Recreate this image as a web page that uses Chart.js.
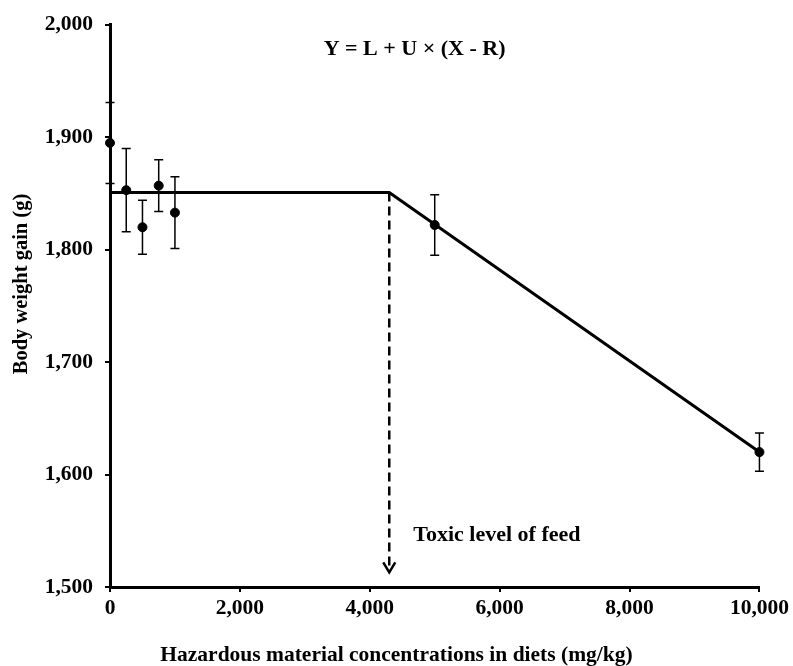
<!DOCTYPE html>
<html>
<head>
<meta charset="utf-8">
<script src="https://cdn.jsdelivr.net/npm/chart.js@4"></script>
<style>
  body { margin: 0; background: #fff; }
  canvas { display: block; }
</style>
</head>
<body>
<canvas id="myChart" width="793" height="666"></canvas>
<script>
// observed means and standard errors
const doses = [0, 250, 500, 750, 1000, 5000, 10000];
const gains = [1895, 1853, 1820, 1857, 1833, 1822, 1620];
const errs = [36, 37, 24, 23, 32, 27, 17];

// broken-line fit
const fitX = [0, 4300, 10000];
const fitY = [1851, 1851, 1620];

// toxic level marker
const toxicX = 4300;
const toxicFrom = 1851;
const toxicTo = 1513;

const yTicks = [1500, 1600, 1700, 1800, 1900, 2000];
const xTicks = [0, 2000, 4000, 6000, 8000, 10000];

const serif = '"Liberation Serif", "Times New Roman", serif';

// draws error bars, the arrow head, text notes and axis titles
const extras = {
  id: 'extras',
  afterDatasetsDraw(chart) {
    const c = chart.ctx, xs = chart.scales.x, ys = chart.scales.y;
    c.save();
    c.strokeStyle = '#000';
    c.lineWidth = 1.5;
    doses.forEach((d, i) => {
      const px = xs.getPixelForValue(d);
      const top = ys.getPixelForValue(gains[i] + errs[i]);
      const bot = ys.getPixelForValue(gains[i] - errs[i]);
      c.beginPath();
      c.moveTo(px, top); c.lineTo(px, bot);
      c.moveTo(px - 4.5, top); c.lineTo(px + 4.5, top);
      c.moveTo(px - 4.5, bot); c.lineTo(px + 4.5, bot);
      c.stroke();
    });
    // arrow head
    const ax = xs.getPixelForValue(toxicX), ay = ys.getPixelForValue(toxicTo);
    c.lineWidth = 2.5;
    c.beginPath();
    c.moveTo(ax - 6, ay - 10); c.lineTo(ax, ay); c.lineTo(ax + 6, ay - 10);
    c.stroke();
    // text notes
    c.fillStyle = '#000';
    c.font = 'bold 22px ' + serif;
    c.textBaseline = 'middle';
    c.textAlign = 'center';
    c.fillText('Y = L + U \u00d7 (X - R)', xs.getPixelForValue(4690), ys.getPixelForValue(1978));
    c.textAlign = 'left';
    c.fillText('Toxic level of feed', xs.getPixelForValue(4670), ys.getPixelForValue(1546));
    // axis titles
    c.textAlign = 'center';
    c.font = 'bold 21.5px ' + serif;
    c.fillText('Hazardous material concentrations in diets (mg/kg)', chart.width / 2, 655);
    c.save();
    c.translate(22, 284);
    c.rotate(-Math.PI / 2);
    c.font = 'bold 20.5px ' + serif;
    c.fillText('Body weight gain (g)', 0, 0);
    c.restore();
    c.restore();
  }
};

new Chart(document.getElementById('myChart'), {
  type: 'scatter',
  data: {
    datasets: [
      {
        label: 'fit',
        type: 'line',
        data: fitX.map((x, i) => ({x: x, y: fitY[i]})),
        borderColor: '#000',
        borderWidth: 3,
        pointRadius: 0,
        tension: 0
      },
      {
        label: 'toxic',
        type: 'line',
        data: [{x: toxicX, y: toxicFrom}, {x: toxicX, y: toxicTo}],
        borderColor: '#000',
        borderWidth: 2.5,
        borderDash: [9, 5],
        pointRadius: 0
      },
      {
        label: 'gain',
        data: doses.map((d, i) => ({x: d, y: gains[i]})),
        backgroundColor: '#000',
        borderColor: '#000',
        pointRadius: 4.5
      }
    ]
  },
  options: {
    responsive: false,
    animation: false,
    clip: false,
    layout: { padding: { top: 24, right: 30, left: 0, bottom: 0 } },
    plugins: { legend: { display: false }, tooltip: { enabled: false } },
    scales: {
      x: {
        type: 'linear',
        min: 0, max: 10000,
        afterBuildTicks: s => { s.ticks = xTicks.map(v => ({value: v})); },
        afterFit: s => { s.height = 79; },
        border: { color: '#000', width: 3 },
        grid: { drawOnChartArea: false, drawTicks: true, tickLength: 5, color: '#000', lineWidth: 2 },
        ticks: {
          color: '#000', padding: 4,
          font: { family: serif, size: 21.5, weight: 'bold' },
          callback: v => v.toLocaleString('en-US')
        }
      },
      y: {
        type: 'linear',
        min: 1500, max: 2000,
        afterBuildTicks: s => { s.ticks = yTicks.map(v => ({value: v})); },
        afterFit: s => { s.width = 110; },
        border: { color: '#000', width: 3 },
        grid: { drawOnChartArea: false, drawTicks: true, tickLength: 5, color: '#000', lineWidth: 2 },
        ticks: {
          color: '#000', padding: 12,
          font: { family: serif, size: 21.5, weight: 'bold' },
          callback: v => v.toLocaleString('en-US')
        }
      }
    }
  },
  plugins: [extras]
});
</script>
</body>
</html>
